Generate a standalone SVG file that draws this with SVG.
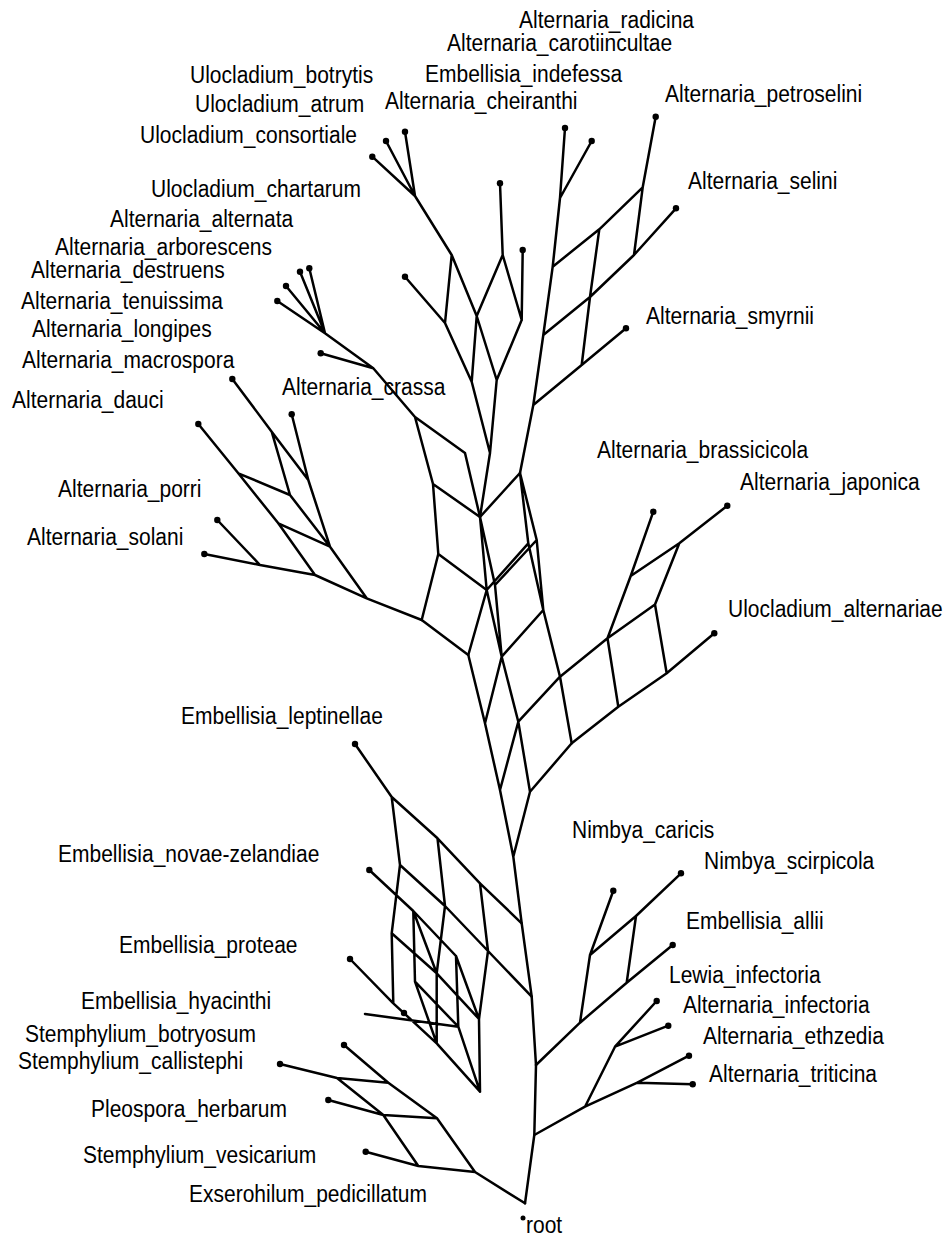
<svg xmlns="http://www.w3.org/2000/svg" width="948" height="1238" viewBox="0 0 948 1238">
<style>
.e{stroke:#000;stroke-width:2.5;fill:none;stroke-linejoin:round;stroke-linecap:round}
.d{fill:#000}
text{font-family:"Liberation Sans",Arial,sans-serif;font-size:21px;fill:#000}
</style>
<rect width="948" height="1238" fill="#fff"/>
<g id="connectors">
<path class="e" d="M565,128L560,198M591.7,141L560,198L552.7,266.7L543.3,335L533.3,405L520,473M552.7,266.7L599.3,229.3L642.7,187.3L655.7,116.7M543.3,335L590,297L634,255L676,208.3M533.3,405L581.7,365L626,328.3M599.3,229.3L590,297L581.7,365M642.7,187.3L634,255"/>
<path class="e" d="M372.3,156.7L415,196M386,141L415,196M405,131.7L415,196L451.7,255L445,323M451.7,255L476.7,316M500,183.3L502.7,255L476.7,316M502.7,255L521.7,320M522.7,250L521.7,320M405,276.7L445,323L471.7,381.7M476.7,316L471.7,381.7M476.7,316L496.7,380M521.7,320L496.7,380M471.7,381.7L490,453L496.7,380M490,453L480,517"/>
<path class="e" d="M300,271.7L325,333.3M309.3,268.3L325,333.3M286,286L325,333.3M277.3,301L325,333.3L373.3,368.3L415,417L465,453L480,517M320.7,353.3L373.3,368.3M415,417L433,484L480,517M433,484L438.3,554L486.7,590M438.3,554L421.7,620L468.3,655"/>
<path class="e" d="M232.3,379L271.7,431.7L308.3,480L330,546.7L366.7,598.3L421.7,620M291.7,414.3L308.3,480M271.7,431.7L290,495L330,546.7M198.3,424L238.3,473.3L278.3,523.3L315,575L366.7,598.3M238.3,473.3L290,495M278.3,523.3L330,546.7M217.3,520L260,565M204.3,554L260,565L315,575"/>
<path class="e" d="M520,473L480,517M520,473L528.3,543.3L486.7,590M520,473L536.7,540L495,585M528.3,543.3L543.3,610M536.7,540L543.3,610M480,517L486.7,590M480,517L495,585M486.7,590L468.3,655M486.7,590L501.7,656.7M495,585L501.7,656.7M543.3,610L501.7,656.7M468.3,655L485,723.3M501.7,656.7L485,723.3M501.7,656.7L518.3,721.7M543.3,610L560,676.7L571.7,743.3M560,676.7L518.3,721.7M485,723.3L500,790M518.3,721.7L500,790M518.3,721.7L530,791.7M571.7,743.3L530,791.7M500,790L513.3,856.7M530,791.7L513.3,856.7L521.7,923.3L531.7,996.7L536,1065L534.3,1135L525,1203.3"/>
<path class="e" d="M560,676.7L607.5,638.3L630.7,576L653.3,511.7M607.5,638.3L655,604.5M630.7,576L679.3,543.3L727.3,505.7M679.3,543.3L655,604.5L666.7,673.3M571.7,743.3L618.3,706.7L666.7,673.3L714.3,633.3M607.5,638.3L618.3,706.7"/>
<path class="e" d="M355,744L391.7,797L437.5,838.3L480,883.3L521.7,923.3M400,865L445,906L488,951L531.7,996.7M391.7,797L400,865L391.7,933.3L393.3,1003.3M437.5,838.3L445,906L436.7,973.3L436.7,1043.3M480,883.3L488,951L479,1019L480,1091.7M391.7,933.3L436.7,973.3L479,1019M350,959L393.3,1003.3L436.7,1043.3L480,1091.7M369.3,870L413.3,911L456,956M413.3,911L415,981.7L458.3,1026.7M456,956L458.3,1026.7M413.3,911L436.7,973.3M456,956L479,1019M415,981.7L436.7,1043.3M458.3,1026.7L480,1091.7M365,1014L458.3,1026.7"/>
<path class="e" d="M280,1064L337,1078L388.3,1082.7L437,1118.3L475,1172L525,1203.3M344,1045L388.3,1082.7M328.3,1100L383.3,1115L437,1118.3M337,1078L383.3,1115L418.3,1166L475,1172M365.7,1151.7L418.3,1166"/>
<path class="e" d="M536,1065L580,1022.7L626.7,982.7L672.7,945M580,1022.7L590,955L613.3,890.7M590,955L636,916L681,873.3M636,916L626.7,982.7M534.3,1135L585,1106.7L637.3,1082.7L692.7,1084.3M637.3,1082.7L689,1055.7M585,1106.7L615,1046.7L656.7,1001M615,1046.7L668.3,1025.7"/>
</g>
<g id="n-radicina"><circle class="d" cx="565" cy="128" r="3.2"/><text transform="translate(519 28) scale(1 1.1)">Alternaria_radicina</text></g>
<g id="n-carotiincultae"><circle class="d" cx="591.7" cy="141" r="3.2"/><text transform="translate(447 51) scale(1 1.1)">Alternaria_carotiincultae</text></g>
<g id="n-indefessa"><circle class="d" cx="522.7" cy="250" r="3.2"/><text transform="translate(425 82) scale(1 1.1)">Embellisia_indefessa</text></g>
<g id="n-cheiranthi"><circle class="d" cx="500" cy="183.3" r="3.2"/><text transform="translate(385 109) scale(1 1.1)">Alternaria_cheiranthi</text></g>
<g id="n-petroselini"><circle class="d" cx="655.7" cy="116.7" r="3.2"/><text transform="translate(665 102) scale(1 1.1)">Alternaria_petroselini</text></g>
<g id="n-selini"><circle class="d" cx="676" cy="208.3" r="3.2"/><text transform="translate(688 189) scale(1 1.1)">Alternaria_selini</text></g>
<g id="n-smyrnii"><circle class="d" cx="626" cy="328.3" r="3.2"/><text transform="translate(646 324) scale(1 1.1)">Alternaria_smyrnii</text></g>
<g id="n-botrytis"><circle class="d" cx="405" cy="131.7" r="3.2"/><text transform="translate(190 83) scale(1 1.1)">Ulocladium_botrytis</text></g>
<g id="n-atrum"><circle class="d" cx="386" cy="141" r="3.2"/><text transform="translate(195 112) scale(1 1.1)">Ulocladium_atrum</text></g>
<g id="n-consortiale"><circle class="d" cx="372.3" cy="156.7" r="3.2"/><text transform="translate(140 143) scale(1 1.1)">Ulocladium_consortiale</text></g>
<g id="n-chartarum"><circle class="d" cx="405" cy="276.7" r="3.2"/><text transform="translate(151 197) scale(1 1.1)">Ulocladium_chartarum</text></g>
<g id="n-alternata"><circle class="d" cx="309.3" cy="268.3" r="3.2"/><text transform="translate(110 227) scale(1 1.1)">Alternaria_alternata</text></g>
<g id="n-arborescens"><circle class="d" cx="300" cy="271.7" r="3.2"/><text transform="translate(55 255) scale(1 1.1)">Alternaria_arborescens</text></g>
<g id="n-destruens"><circle class="d" cx="286" cy="286" r="3.2"/><text transform="translate(31 278) scale(1 1.1)">Alternaria_destruens</text></g>
<g id="n-tenuissima"><circle class="d" cx="277.3" cy="301" r="3.2"/><text transform="translate(21 309) scale(1 1.1)">Alternaria_tenuissima</text></g>
<g id="n-longipes"><circle class="d" cx="320.7" cy="353.3" r="3.2"/><text transform="translate(32 337) scale(1 1.1)">Alternaria_longipes</text></g>
<g id="n-macrospora"><circle class="d" cx="232.3" cy="379" r="3.2"/><text transform="translate(22 368) scale(1 1.1)">Alternaria_macrospora</text></g>
<g id="n-crassa"><circle class="d" cx="291.7" cy="414.3" r="3.2"/><text transform="translate(282 395) scale(1 1.1)">Alternaria_crassa</text></g>
<g id="n-dauci"><circle class="d" cx="198.3" cy="424" r="3.2"/><text transform="translate(12 408) scale(1 1.1)">Alternaria_dauci</text></g>
<g id="n-porri"><circle class="d" cx="217.3" cy="520" r="3.2"/><text transform="translate(58 497) scale(1 1.1)">Alternaria_porri</text></g>
<g id="n-solani"><circle class="d" cx="204.3" cy="554" r="3.2"/><text transform="translate(27 545) scale(1 1.1)">Alternaria_solani</text></g>
<g id="n-brassicicola"><circle class="d" cx="653.3" cy="511.7" r="3.2"/><text transform="translate(597 458) scale(1 1.1)">Alternaria_brassicicola</text></g>
<g id="n-japonica"><circle class="d" cx="727.3" cy="505.7" r="3.2"/><text transform="translate(740 490) scale(1 1.1)">Alternaria_japonica</text></g>
<g id="n-alternariae"><circle class="d" cx="714.3" cy="633.3" r="3.2"/><text transform="translate(728 617) scale(1 1.1)">Ulocladium_alternariae</text></g>
<g id="n-leptinellae"><circle class="d" cx="355" cy="744" r="3.2"/><text transform="translate(181 724) scale(1 1.1)">Embellisia_leptinellae</text></g>
<g id="n-novae-zelandiae"><circle class="d" cx="369.3" cy="870" r="3.2"/><text transform="translate(58 862) scale(1 1.1)">Embellisia_novae-zelandiae</text></g>
<g id="n-proteae"><circle class="d" cx="350" cy="959" r="3.2"/><text transform="translate(119 953) scale(1 1.1)">Embellisia_proteae</text></g>
<g id="n-hyacinthi"><circle class="d" cx="404" cy="1013" r="3.2"/><text transform="translate(81 1009) scale(1 1.1)">Embellisia_hyacinthi</text></g>
<g id="n-botryosum"><circle class="d" cx="344" cy="1045" r="3.2"/><text transform="translate(25 1042) scale(1 1.1)">Stemphylium_botryosum</text></g>
<g id="n-callistephi"><circle class="d" cx="280" cy="1064" r="3.2"/><text transform="translate(18 1069) scale(1 1.1)">Stemphylium_callistephi</text></g>
<g id="n-herbarum"><circle class="d" cx="328.3" cy="1100" r="3.2"/><text transform="translate(91 1117) scale(1 1.1)">Pleospora_herbarum</text></g>
<g id="n-vesicarium"><circle class="d" cx="365.7" cy="1151.7" r="3.2"/><text transform="translate(83 1163) scale(1 1.1)">Stemphylium_vesicarium</text></g>
<g id="n-pedicillatum"><text transform="translate(189 1202) scale(1 1.1)">Exserohilum_pedicillatum</text></g>
<g id="n-caricis"><circle class="d" cx="613.3" cy="890.7" r="3.2"/><text transform="translate(572 838) scale(1 1.1)">Nimbya_caricis</text></g>
<g id="n-scirpicola"><circle class="d" cx="681" cy="873.3" r="3.2"/><text transform="translate(704 869) scale(1 1.1)">Nimbya_scirpicola</text></g>
<g id="n-allii"><circle class="d" cx="672.7" cy="945" r="3.2"/><text transform="translate(686 929) scale(1 1.1)">Embellisia_allii</text></g>
<g id="n-lewia"><circle class="d" cx="656.7" cy="1001" r="3.2"/><text transform="translate(669 983) scale(1 1.1)">Lewia_infectoria</text></g>
<g id="n-infectoria"><circle class="d" cx="668.3" cy="1025.7" r="3.2"/><text transform="translate(683 1013) scale(1 1.1)">Alternaria_infectoria</text></g>
<g id="n-ethzedia"><circle class="d" cx="689" cy="1055.7" r="3.2"/><text transform="translate(703 1044) scale(1 1.1)">Alternaria_ethzedia</text></g>
<g id="n-triticina"><circle class="d" cx="692.7" cy="1084.3" r="3.2"/><text transform="translate(709 1082) scale(1 1.1)">Alternaria_triticina</text></g>
<g id="n-root"><circle class="d" cx="523" cy="1218" r="2.5"/><text transform="translate(526 1233) scale(1 1.1)">root</text></g>
</svg>
